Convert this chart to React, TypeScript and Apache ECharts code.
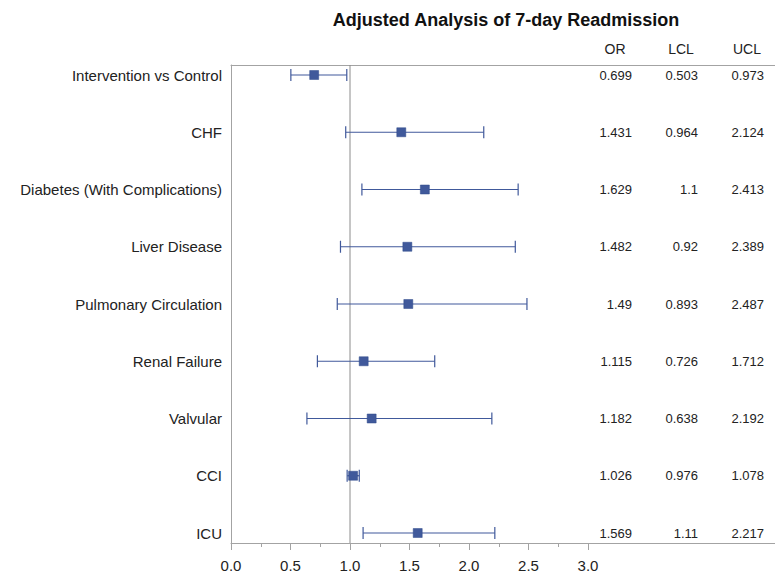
import React, { useEffect, useRef } from 'react';
import * as echarts from 'echarts';

const categories = [
  'Intervention vs Control',
  'CHF',
  'Diabetes (With Complications)',
  'Liver Disease',
  'Pulmonary Circulation',
  'Renal Failure',
  'Valvular',
  'CCI',
  'ICU',
];
const oddsRatio = [0.699, 1.431, 1.629, 1.482, 1.49, 1.115, 1.182, 1.026, 1.569];
const lowerCL = [0.503, 0.964, 1.1, 0.92, 0.893, 0.726, 0.638, 0.976, 1.11];
const upperCL = [0.973, 2.124, 2.413, 2.389, 2.487, 1.712, 2.192, 1.078, 2.217];
const xTickValues = [0, 0.5, 1, 1.5, 2, 2.5, 3];
const xMinorTickValues = [0.25, 0.75, 1.25, 1.75, 2.25, 2.75];
const referenceValues = [1];
const tableHeaders = ['OR', 'LCL', 'UCL'];
const titleText = 'Adjusted Analysis of 7-day Readmission';

const FONT = '"Liberation Sans", Arial, sans-serif';
const AXIS_GRAY = '#a3a3a3';
const BLUE = '#40599b';
const GRID_LEFT = 231;
const GRID_WIDTH = 560; // extends past the right edge, so no right border is visible
const PX_PER_UNIT = 119;
const X_MAX = GRID_WIDTH / PX_PER_UNIT;

export default function App() {
  const ref = useRef<HTMLDivElement>(null);
  useEffect(() => {
    if (!ref.current) return;
    const chart = echarts.init(ref.current, undefined, { renderer: 'svg' });

    const tableCols = [
      { values: oddsRatio, right: 632, headerX: 615 },
      { values: lowerCL, right: 698, headerX: 681 },
      { values: upperCL, right: 764, headerX: 747 },
    ];

    const option: any = {
      animation: false,
      backgroundColor: '#ffffff',
      textStyle: { fontFamily: FONT },
      grid: [
        { left: GRID_LEFT, width: GRID_WIDTH, top: 65, height: 478, show: false, containLabel: false, outerBoundsMode: 'none' },
        { left: GRID_LEFT, width: GRID_WIDTH, top: 75, height: 458, show: false, containLabel: false, outerBoundsMode: 'none' },
      ],
      xAxis: [
        {
          gridIndex: 0,
          type: 'value',
          min: 0,
          max: X_MAX,
          position: 'bottom',
          axisLine: { show: true, onZero: false, lineStyle: { color: AXIS_GRAY, width: 1 } },
          axisTick: { show: true, customValues: xTickValues, length: 7, lineStyle: { color: AXIS_GRAY } },
          axisLabel: {
            show: true,
            customValues: xTickValues,
            formatter: (v: number) => v.toFixed(1),
            fontSize: 15,
            color: '#222',
            margin: 15,
            fontFamily: FONT,
          },
          splitLine: { show: false },
        },
        {
          gridIndex: 0,
          type: 'value',
          min: 0,
          max: X_MAX,
          position: 'bottom',
          axisLine: { show: false, onZero: false },
          axisTick: { show: true, customValues: xMinorTickValues, length: 4, lineStyle: { color: AXIS_GRAY } },
          axisLabel: { show: false },
          splitLine: { show: false },
        },
        {
          gridIndex: 0,
          type: 'value',
          min: 0,
          max: X_MAX,
          position: 'top',
          axisLine: { show: true, onZero: false, lineStyle: { color: AXIS_GRAY, width: 1 } },
          axisTick: { show: false },
          axisLabel: { show: false },
          splitLine: { show: false },
        },
        {
          gridIndex: 1,
          type: 'value',
          min: 0,
          max: X_MAX,
          show: false,
        },
      ],
      yAxis: [
        {
          gridIndex: 0,
          type: 'value',
          min: 0,
          max: 1,
          position: 'left',
          axisLine: { show: true, onZero: false, lineStyle: { color: AXIS_GRAY, width: 1 } },
          axisTick: { show: false },
          axisLabel: { show: false },
          splitLine: { show: false },
        },
        {
          gridIndex: 1,
          type: 'category',
          data: categories,
          inverse: true,
          boundaryGap: false,
          position: 'left',
          axisLine: { show: false },
          axisTick: { show: false },
          splitLine: { show: false },
          axisLabel: { fontSize: 15, color: '#222', margin: 9, fontFamily: FONT },
        },
        ...tableCols.map((c) => ({
          gridIndex: 1,
          type: 'category',
          data: c.values.map((v) => String(v)),
          inverse: true,
          boundaryGap: false,
          position: 'left',
          offset: GRID_LEFT - c.right,
          axisLine: { show: false },
          axisTick: { show: false },
          splitLine: { show: false },
          axisLabel: { fontSize: 13, color: '#222', margin: 0, align: 'right', fontFamily: FONT },
        })),
      ],
      graphic: [
        {
          type: 'text',
          x: 506,
          y: 20,
          style: {
            text: titleText,
            font: `bold 18px ${FONT}`,
            fill: '#111',
            textAlign: 'center',
            textVerticalAlign: 'middle',
          },
        },
        ...tableHeaders.map((h, i) => ({
          type: 'text',
          x: tableCols[i].headerX,
          y: 49,
          style: {
            text: h,
            font: `14px ${FONT}`,
            fill: '#222',
            textAlign: 'center',
            textVerticalAlign: 'middle',
          },
        })),
        {
          type: 'rect',
          z: 100,
          silent: true,
          shape: { x: 769, y: 66.5, width: 12, height: 475.5 },
          style: { fill: '#ffffff' },
        },
      ],
      series: [
        {
          type: 'custom',
          xAxisIndex: 0,
          yAxisIndex: 0,
          silent: true,
          encode: { x: 0 },
          data: referenceValues.map((v) => [v]),
          renderItem: (params: any, api: any) => {
            const v = api.value(0);
            const a = api.coord([v, 0]);
            const b = api.coord([v, 1]);
            return {
              type: 'line',
              shape: { x1: a[0], y1: a[1], x2: b[0], y2: b[1] },
              style: { stroke: '#8c8c8c', lineWidth: 1 },
            };
          },
        },
        {
          type: 'custom',
          xAxisIndex: 3,
          yAxisIndex: 1,
          silent: true,
          encode: { x: [0, 1], y: 2 },
          data: categories.map((_, i) => [lowerCL[i], upperCL[i], i]),
          renderItem: (params: any, api: any) => {
            const yi = api.value(2);
            const lo = api.coord([api.value(0), yi]);
            const hi = api.coord([api.value(1), yi]);
            const h = 6;
            const style = { stroke: BLUE, lineWidth: 1.2, fill: 'none' };
            return {
              type: 'group',
              children: [
                { type: 'line', shape: { x1: lo[0], y1: lo[1], x2: hi[0], y2: hi[1] }, style },
                { type: 'line', shape: { x1: lo[0], y1: lo[1] - h, x2: lo[0], y2: lo[1] + h }, style },
                { type: 'line', shape: { x1: hi[0], y1: hi[1] - h, x2: hi[0], y2: hi[1] + h }, style },
              ],
            };
          },
        },
        {
          type: 'scatter',
          xAxisIndex: 3,
          yAxisIndex: 1,
          silent: true,
          symbol: 'rect',
          symbolSize: 9,
          itemStyle: { color: BLUE, borderColor: '#2f4a8a', borderWidth: 0.5, opacity: 1 },
          data: categories.map((_, i) => [oddsRatio[i], i]),
          z: 5,
        },
      ],
    };

    chart.setOption(option);
    return () => chart.dispose();
  }, []);

  return (
    <div
      ref={ref}
      style={{ position: 'fixed', left: 0, top: 0, width: 775, height: 580, background: '#fff' }}
    />
  );
}
